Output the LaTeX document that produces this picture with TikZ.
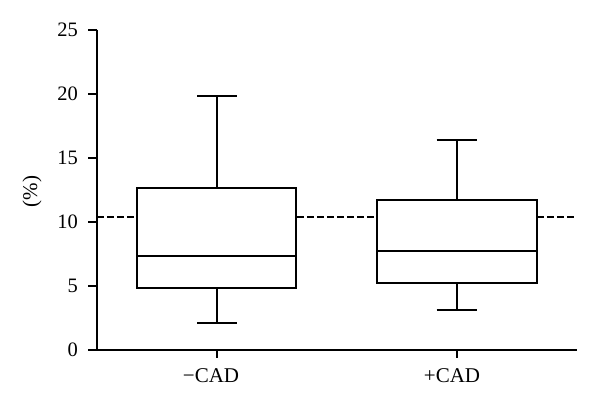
\documentclass[tikz,border=0pt]{standalone}
\usepackage{fontspec}
\setmainfont{Liberation Serif}
\begin{document}
\begin{tikzpicture}[x=1pt,y=-1pt,
  ln/.style={line width=1.8pt,line cap=butt},
  boxst/.style={ln,fill=white},
  ticklab/.style={anchor=east,inner sep=0pt,font=\fontsize{20.5}{20.5}\selectfont},
  catlab/.style={anchor=base,inner sep=0pt,font=\fontsize{21}{21}\selectfont},
  meanline/.style={ln,dash pattern=on 6.7pt off 3.3pt}]
\useasboundingbox (0,0) rectangle (600,405);
% reference line
\draw[meanline] (97,217.3) -- (576.5,217.3);
% axes
\draw[ln] (97,29.7) -- (97,349.7) -- (576.5,349.7);
\foreach \v/\y in {0/349.7,5/285.7,10/221.7,15/157.7,20/93.7,25/29.7}{
  \draw[ln] (88,\y) -- (97,\y);
  \node[ticklab] (t\v) at (78,\y) {\v};
}
\node[rotate=90,inner sep=0pt,font=\fontsize{21}{21}\selectfont] (ylab) at (32,191.5) {(\%)};
% category ticks
\draw[ln] (217,349.7) -- (217,358);
\draw[ln] (456.7,349.7) -- (456.7,358);
\node[catlab] (c1) at (211,382.5) {−CAD};
\node[catlab] (c2) at (452,382.5) {+CAD};
% box 1
\draw[ln] (217,187.7) -- (217,96);
\draw[ln] (197,96) -- (237,96);
\draw[ln] (217,288) -- (217,323);
\draw[ln] (197,323) -- (237,323);
\draw[boxst] (137,187.7) rectangle (296,288);
\draw[ln] (137,256) -- (296,256);
% box 2
\draw[ln] (456.7,200) -- (456.7,139.7);
\draw[ln] (436.7,139.7) -- (476.7,139.7);
\draw[ln] (456.7,283.3) -- (456.7,310);
\draw[ln] (436.7,310) -- (476.7,310);
\draw[boxst] (376.7,200) rectangle (536.7,283.3);
\draw[ln] (376.7,250.7) -- (536.7,250.7);
\end{tikzpicture}
\end{document}
